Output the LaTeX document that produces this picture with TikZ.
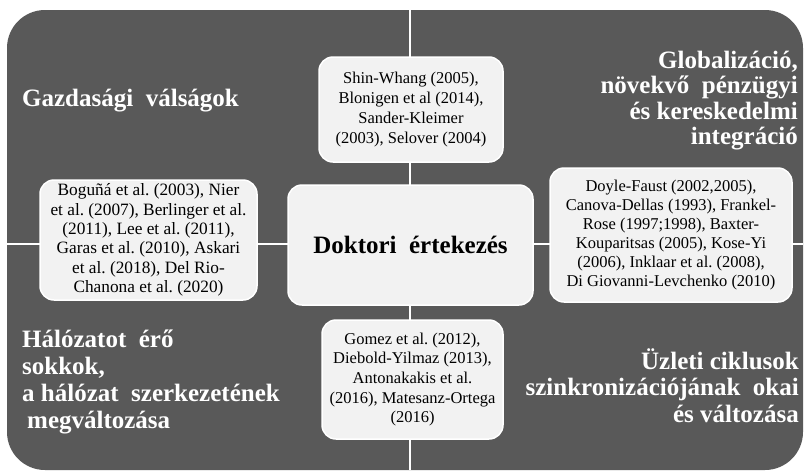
\documentclass[tikz,border=0pt]{standalone}
\usepackage{fontspec}
\setmainfont{Liberation Serif}
\frenchspacing
\definecolor{darkq}{HTML}{595959}
\definecolor{boxfill}{HTML}{F2F2F2}
\newcommand{\headR}[1]{\begin{tabular}[t]{@{}r@{}}#1\end{tabular}}
\newcommand{\headL}[1]{\begin{tabular}[t]{@{}l@{}}#1\end{tabular}}
\begin{document}
\begin{tikzpicture}[x=1pt,y=-1pt,
  gap/.style={draw=white, line width=2pt},
  refbox/.style={draw=white, line width=1.5pt, fill=boxfill, rounded corners=14pt,
    inner sep=0pt, align=center},
  head/.style={text=white, inner sep=0pt}]
\useasboundingbox (0,0) rectangle (806,474);
% background quadrants
\fill[darkq, rounded corners=38pt] (7,10) rectangle (803,470);
\draw[gap] (410,10) -- (410,470);
\draw[gap] (7,244) -- (803,244);
% headings
\node[head, anchor=base west, font=\fontsize{25}{26}\selectfont\bfseries] (h1) at (22,106) {Gazdasági\ \ válságok};
\node[head, anchor=base east, font=\fontsize{25}{25.6}\selectfont\bfseries] (h2) at (798,68)
  {\headR{Globalizáció,\\növekvő\ \ pénzügyi\\és kereskedelmi\\integráció}};
\node[head, anchor=base west, font=\fontsize{25}{27}\selectfont\bfseries] (h3) at (22,347)
  {\headL{Hálózatot\ \ érő\\sokkok,\\a hálózat\ \ szerkezetének\\\hspace{5pt}megváltozása}};
\node[head, anchor=base east, font=\fontsize{25}{26.5}\selectfont\bfseries] (h4) at (799,369)
  {\headR{Üzleti ciklusok\\szinkronizációjának\ \ okai\\és változása}};
% boxes
\node[refbox, minimum width=184pt, minimum height=105pt, font=\fontsize{16.5}{20.2}\selectfont] (top) at (411,109.5)
  {Shin-Whang (2005),\\Blonigen et al (2014),\\Sander-Kleimer\\(2003), Selover (2004)};
\node[refbox, minimum width=217pt, minimum height=120pt, font=\fontsize{17.3}{19.3}\selectfont] (left) at (148.5,240)
  {Boguñá et al. (2003), Nier\\et al. (2007), Berlinger et al.\\(2011), Lee et al. (2011),\\Garas et al. (2010), Askari\\et al. (2018), Del Rio-\\Chanona et al. (2020)};
\node[refbox, minimum width=242pt, minimum height=134pt, font=\fontsize{16.5}{18.9}\selectfont] (right) at (671,235)
  {Doyle-Faust (2002,2005),\\Canova-Dellas (1993), Frankel-\\Rose (1997;1998), Baxter-\\Kouparitsas (2005), Kose-Yi\\(2006), Inklaar et al. (2008),\\Di Giovanni-Levchenko (2010)};
\node[refbox, minimum width=181pt, minimum height=119pt, font=\fontsize{16.5}{19.6}\selectfont] (bottom) at (412.5,379.5)
  {Gomez et al. (2012),\\Diebold-Yilmaz (2013),\\Antonakakis et al.\\(2016), Matesanz-Ortega\\(2016)};
\node[refbox, minimum width=245pt, minimum height=120pt, font=\fontsize{25}{26}\selectfont\bfseries] (center) at (410.5,245)
  {Doktori\ \ értekezés};
\end{tikzpicture}
\end{document}
